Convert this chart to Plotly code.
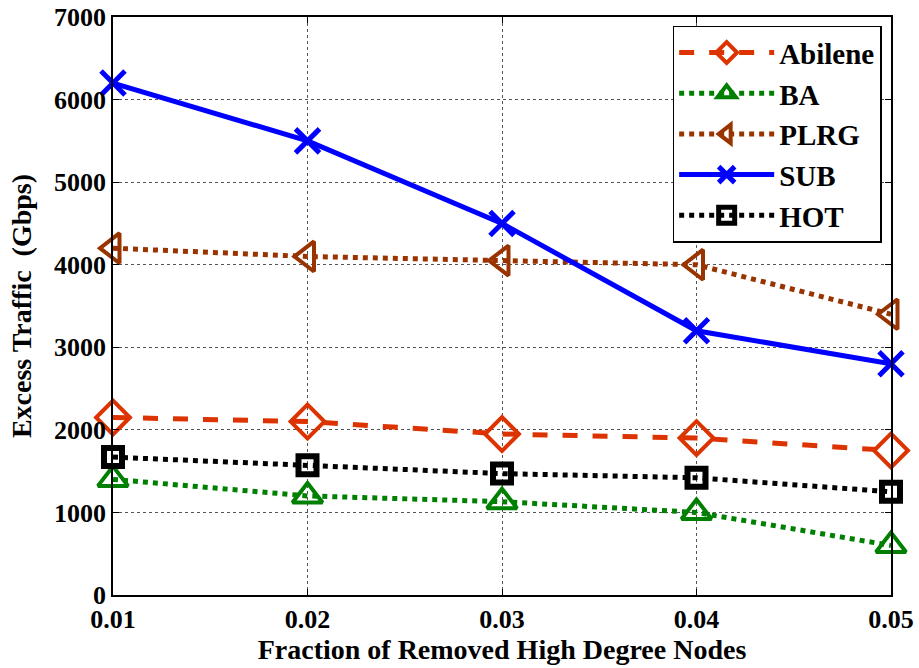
import plotly.graph_objects as go

x_vals = [0.01, 0.02, 0.03, 0.04, 0.05]
abilene = [2150, 2100, 1950, 1900, 1750]
ba = [1400, 1200, 1130, 1000, 600]
plrg = [4200, 4100, 4050, 4000, 3400]
sub = [6200, 5500, 4500, 3200, 2800]
hot = [1670, 1570, 1470, 1420, 1250]

x_ticks = [0.01, 0.02, 0.03, 0.04, 0.05]
x_tick_text = ["0.01", "0.02", "0.03", "0.04", "0.05"]
y_ticks = [0, 1000, 2000, 3000, 4000, 5000, 6000, 7000]

series = [
    ("Abilene", abilene, "#dd3300", "dash", "diamond-open", 26, 4),
    ("BA", ba, "#008000", "dot", "triangle-up-open", 26, 4),
    ("PLRG", plrg, "#993300", "dot", "triangle-left-open", 26, 4),
    ("SUB", sub, "#0000ff", "solid", "x-thin-open", 24, 5),
    ("HOT", hot, "#000000", "dot", "square-open", 18, 6),
]

fig = go.Figure()
for name, ys, color, dash, sym, size, mlw in series:
    fig.add_trace(go.Scatter(
        x=x_vals, y=ys, name=name, mode="lines+markers",
        line=dict(color=color, width=5, dash=dash),
        marker=dict(symbol=sym, size=size, color=color,
                    line=dict(color=color, width=mlw)),
        cliponaxis=False,
    ))

font_family = "Liberation Serif, Times New Roman, serif"
fig.update_layout(
    width=919, height=668,
    margin=dict(l=113, r=28, t=17, b=73),
    paper_bgcolor="white", plot_bgcolor="white",
    font=dict(family=font_family, size=26, color="black"),
    showlegend=True,
    legend=dict(
        x=0.988, y=0.985, xanchor="right", yanchor="top",
        bgcolor="white", bordercolor="black", borderwidth=1.5,
        font=dict(family=font_family, size=29, color="black", weight="bold"),
        tracegroupgap=0, itemwidth=95,
    ),
    xaxis=dict(
        range=[0.01, 0.05], tickvals=x_ticks, ticktext=x_tick_text,
        showgrid=True, gridcolor="#555555", griddash="dot", gridwidth=1,
        showline=True, linecolor="black", linewidth=1.5, mirror="ticks",
        ticks="inside", ticklen=6, tickcolor="black", zeroline=False,
        automargin=False,
        tickfont=dict(family=font_family, size=26, color="black", weight="bold"),
        title=dict(text="Fraction of Removed High Degree Nodes", standoff=0,
                   font=dict(family=font_family, size=28, color="black", weight="bold")),
    ),
    yaxis=dict(
        range=[0, 7000], tickvals=y_ticks,
        showgrid=True, gridcolor="#555555", griddash="dot", gridwidth=1,
        showline=True, linecolor="black", linewidth=1.5, mirror="ticks",
        ticks="inside", ticklen=6, tickcolor="black", zeroline=False,
        automargin=False,
        tickfont=dict(family=font_family, size=26, color="black", weight="bold"),
        title=dict(text="Excess Traffic  (Gbps)", standoff=14,
                   font=dict(family=font_family, size=28, color="black", weight="bold")),
    ),
)

fig.write_html("out.html")
